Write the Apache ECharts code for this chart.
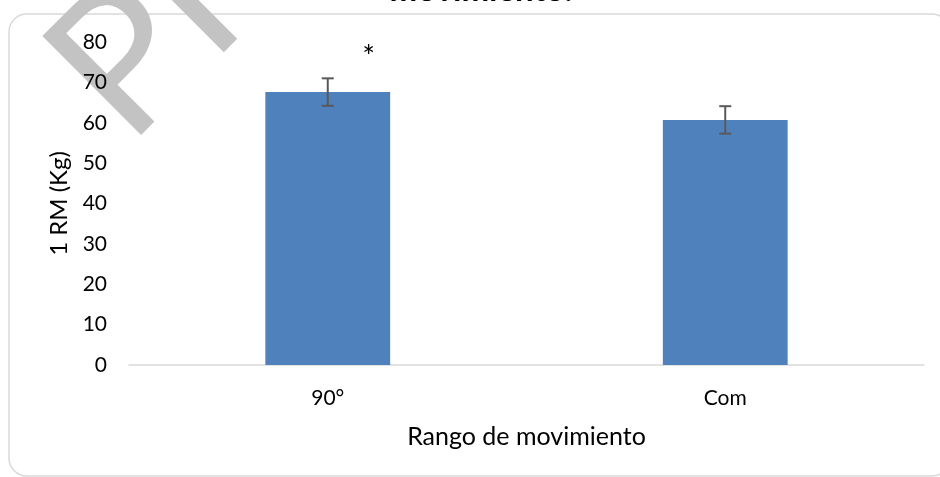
<!DOCTYPE html>
<html>
<head>
<meta charset="utf-8">
<script src="https://cdn.jsdelivr.net/npm/echarts@6/dist/echarts.min.js"></script>
<style>
html,body{margin:0;padding:0;background:#fff;}
#chart{width:940px;height:477px;}
</style>
</head>
<body>
<div id="chart"></div>
<script>
// ---- data ----
const categories = ['90°', 'Com'];
const means = [67.6, 60.7];
const errors = [3.4, 3.4];
const significance = ['*', ''];
const yTicks = [0, 10, 20, 30, 40, 50, 60, 70, 80];
const titleText = 'movimiento.';
const xAxisTitle = 'Rango de movimiento';
const yAxisTitle = '1 RM (Kg)';

const FONT = 'Lato';
const chart = echarts.init(document.getElementById('chart'));

const errData = categories.map((c, i) => [i, means[i], errors[i]]);

chart.setOption({
  animation: false,
  backgroundColor: '#fff',
  textStyle: { fontFamily: FONT },
  graphic: [
    {
      type: 'rect', z: -3,
      shape: { x: 9, y: 14, width: 941, height: 462, r: 18 },
      style: { fill: 'none', stroke: '#d9d9d9', lineWidth: 1.5 }
    },
    {
      type: 'text', z: -2,
      x: 153, y: 172, rotation: Math.PI / 4,
      style: { text: 'PR', font: 'normal 195px Lato', fill: '#c3c3c3', textAlign: 'left', textVerticalAlign: 'bottom' }
    },
    {
      type: 'text', z: 5,
      x: 481, y: 7,
      style: { text: titleText, font: 'bold 33px Lato', fill: '#000', textAlign: 'center', textVerticalAlign: 'bottom' }
    }
  ],
  grid: { left: 129, right: 16, top: 42, bottom: 112 },
  xAxis: {
    type: 'category',
    data: categories,
    axisLine: { lineStyle: { color: '#d9d9d9', width: 1.5 } },
    axisTick: { show: false },
    axisLabel: { fontSize: 21, color: '#000', margin: 23, fontFamily: FONT },
    name: xAxisTitle,
    nameLocation: 'middle',
    nameGap: 59,
    nameTextStyle: { fontSize: 25, color: '#000', fontFamily: FONT }
  },
  yAxis: {
    type: 'value',
    min: yTicks[0], max: yTicks[yTicks.length - 1], interval: yTicks[1] - yTicks[0],
    axisLine: { show: false },
    axisTick: { show: false },
    splitLine: { show: false },
    axisLabel: { fontSize: 21, color: '#000', margin: 22, fontFamily: FONT },
    name: yAxisTitle,
    nameLocation: 'middle',
    nameGap: 55,
    nameTextStyle: { fontSize: 24, color: '#000', fontFamily: FONT }
  },
  series: [
    {
      type: 'bar',
      data: means.map((v, i) => ({
        value: v,
        label: {
          show: significance[i] !== '',
          formatter: significance[i],
          position: 'top',
          offset: [41, -15],
          fontSize: 30, color: '#000', fontFamily: FONT
        }
      })),
      barWidth: '31.4%',
      itemStyle: { color: '#4f81bd' },
      z: 2
    },
    {
      type: 'custom',
      data: errData,
      z: 3,
      renderItem: function (params, api) {
        const x = api.value(0), m = api.value(1), e = api.value(2);
        const top = api.coord([x, m + e]);
        const bot = api.coord([x, m - e]);
        const hw = 6;
        const st = { stroke: '#595959', lineWidth: 2 };
        return {
          type: 'group',
          children: [
            { type: 'line', shape: { x1: top[0], y1: top[1], x2: bot[0], y2: bot[1] }, style: st },
            { type: 'line', shape: { x1: top[0] - hw, y1: top[1], x2: top[0] + hw, y2: top[1] }, style: st },
            { type: 'line', shape: { x1: bot[0] - hw, y1: bot[1], x2: bot[0] + hw, y2: bot[1] }, style: st }
          ]
        };
      }
    }
  ]
});
</script>
</body>
</html>
